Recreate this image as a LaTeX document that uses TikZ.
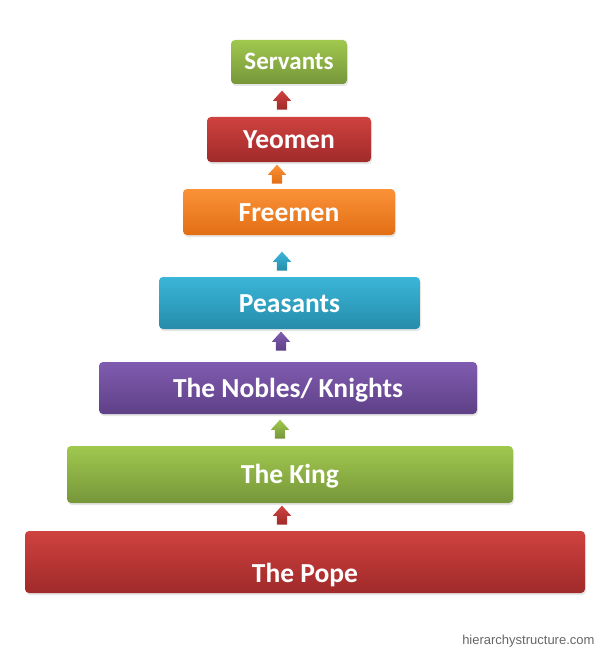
\documentclass[tikz,border=0pt]{standalone}
\usepackage{fontspec}
\setmainfont{Carlito}
\newfontfamily\webfont{Liberation Sans}
\usetikzlibrary{shapes.arrows,shadows}

\definecolor{credTop}{RGB}{207,66,63}
\definecolor{credBot}{RGB}{160,42,42}
\definecolor{cgreenTop}{RGB}{160,200,78}
\definecolor{cgreenBot}{RGB}{118,150,58}
\definecolor{corangeTop}{RGB}{251,146,56}
\definecolor{corangeBot}{RGB}{226,110,20}
\definecolor{ctealTop}{RGB}{58,182,216}
\definecolor{ctealBot}{RGB}{38,140,170}
\definecolor{cpurpleTop}{RGB}{128,92,176}
\definecolor{cpurpleBot}{RGB}{94,64,134}

\begin{document}
\begin{tikzpicture}[x=1pt,y=-1pt,
    tiershade/.style={top color=#1Top, bottom color=#1Bot},
    tier/.style n args={2}{rounded corners=4pt, minimum width=#1, minimum height=#2,
      text=white, font=\bfseries\fontsize{27.5}{32}\selectfont,
      text height=18pt, text depth=0pt, inner sep=0pt,
      drop shadow={opacity=0.2, shadow xshift=1pt, shadow yshift=-2pt}},
    uparrow/.style={single arrow, shape border rotate=90, inner sep=5pt,
      minimum height=19pt, single arrow head extend=4pt,
      single arrow tip angle=84}
  ]
  \useasboundingbox (0,0) rectangle (600,650);

  % the tiers, top to bottom
  \node[tier={116pt}{44pt}, tiershade=cgreen, font=\bfseries\fontsize{25}{30}\selectfont,
    text height=16pt] (servants) at (289,62) {Servants};
  \node[tier={164pt}{45pt}, tiershade=cred] (yeomen) at (289,139.5) {Yeomen};
  \node[tier={212pt}{46pt}, tiershade=corange] (freemen) at (289,212) {Freemen};
  \node[tier={261pt}{52pt}, tiershade=cteal] (peasants) at (289.5,303) {Peasants};
  \node[tier={378pt}{52pt}, tiershade=cpurple] (nobles) at (288,388) {The Nobles/ Knights};
  \node[tier={446pt}{57pt}, tiershade=cgreen] (king) at (290,474.5) {The King};
  \node[tier={560pt}{62pt}, tiershade=cred, text height=40pt] (pope) at (305,562) {The Pope};

  % small block arrows between the tiers
  \foreach \name/\col/\x/\y in {up1/cred/282/103, up2/corange/277/177,
      up3/cteal/282/264, up4/cpurple/281/344, up5/cgreen/280/432, up6/cred/282/518}
    \node[uparrow, tiershade=\col] (\name) at (\x,\y) {};

  \node[anchor=base east, text=black!60, font=\webfont\fontsize{13}{15}\selectfont]
    (site) at (598,644) {hierarchystructure.com};
\end{tikzpicture}
\end{document}
